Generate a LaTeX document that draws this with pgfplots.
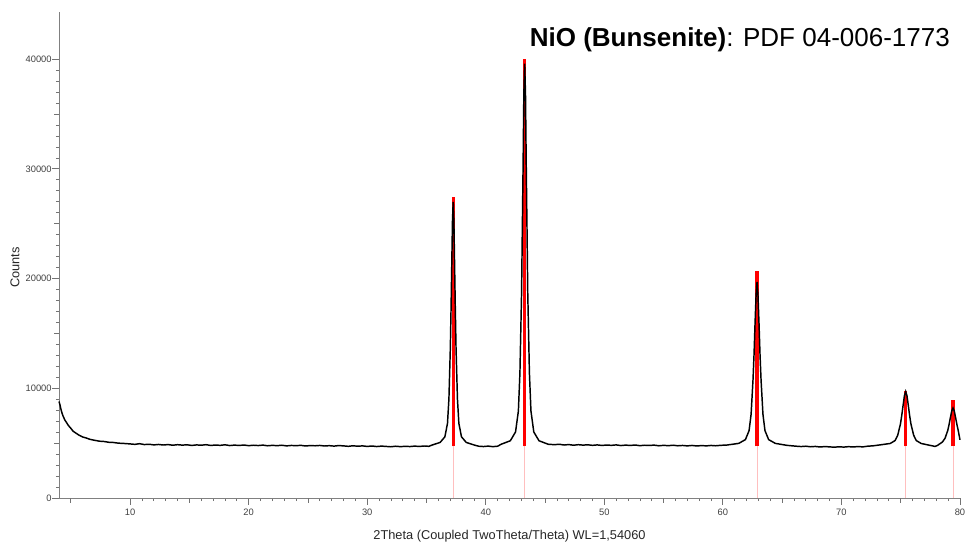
\documentclass[border=0pt]{standalone}
\usepackage{pgfplots}
\pgfplotsset{compat=1.18}
\usepackage{fontspec}
\setmainfont{Liberation Sans}
\begin{document}
\begin{tikzpicture}
\useasboundingbox (-44.25pt,-39pt) rectangle (681.75pt,373.5pt);
\begin{axis}[
  at={(0,0)}, anchor=south west,
  scale only axis, width=675.75pt, height=364.5pt,
  xmin=4, xmax=80, ymin=0, ymax=44300,
  axis lines*=left,
  axis line style={draw=black!50, line width=0.6pt, -},
  tick align=outside,
  major tick length=5pt, minor tick length=2.4pt,
  every tick/.style={draw=black!55, line width=0.6pt},
  xtick={10,20,...,80}, minor x tick num=9,
  ytick={0,10000,...,40000}, minor y tick num=9,
  extra x ticks={5,15,...,75}, extra x tick labels={},
  extra y ticks={5000,15000,...,35000}, extra y tick labels={},
  extra tick style={major tick length=3.6pt},
  scaled y ticks=false,
  /pgf/number format/assume math mode=true,
  /pgf/number format/1000 sep={},
  tick label style={font=\fontsize{7}{8}\selectfont, text=black!75},
  yticklabel style={xshift=3pt},
  xlabel={2Theta (Coupled TwoTheta/Theta) WL=1,54060},
  ylabel={Counts},
  label style={font=\fontsize{9.6}{11}\selectfont, text=black!85},
  xlabel style={at={(axis description cs:0.5,-0.078)}, anchor=center},
  ylabel style={at={(axis description cs:-0.049,0.474)}, anchor=center},
  clip=false,
]
% reference pattern sticks (thin lower part)
\addplot[red!25, line width=0.5pt] coordinates {(37.25,0) (37.25,4700)};
\addplot[red!25, line width=0.5pt] coordinates {(43.28,0) (43.28,4700)};
\addplot[red!25, line width=0.5pt] coordinates {(62.88,0) (62.88,4700)};
\addplot[red!25, line width=0.5pt] coordinates {(75.42,0) (75.42,4700)};
\addplot[red!25, line width=0.5pt] coordinates {(79.41,0) (79.41,4700)};
% reference pattern sticks (thick part)
\addplot[red, line width=2.3pt] coordinates {(37.25,4700) (37.25,27400)};
\addplot[red, line width=2.3pt] coordinates {(43.28,4700) (43.28,40000)};
\addplot[red, line width=2.3pt] coordinates {(62.88,4700) (62.88,20650)};
\addplot[red, line width=2.3pt] coordinates {(75.42,4700) (75.42,9750)};
\addplot[red, line width=2.3pt] coordinates {(79.41,4700) (79.41,8900)};
% measured pattern
\addplot[black, line width=1.1pt] table {
4.0 8800
4.08 8500
4.15 8150
4.25 7750
4.35 7450
4.5 7100
4.65 6850
4.8 6600
5.0 6350
5.2 6080
5.45 5900
5.7 5720
6.0 5560
6.3 5470
6.6 5350
7.0 5260
7.4 5180
7.8 5150
8.2 5080
8.6 5060
9.0 5000
9.5 4970
10.0 4930
10.4 4890
10.8 4950
11.2 4870
11.6 4900
12.0 4840
12.4 4880
12.8 4830
13.2 4870
13.6 4810
14.0 4860
14.4 4820
14.8 4850
15.2 4790
15.6 4840
16.0 4810
16.4 4860
16.8 4790
17.2 4830
17.6 4800
18.0 4850
18.4 4780
18.8 4820
19.2 4790
19.6 4830
20.0 4770
20.4 4810
20.8 4780
21.2 4820
21.6 4760
22.0 4800
22.4 4770
22.8 4810
23.2 4750
23.6 4790
24.0 4770
24.4 4800
24.8 4740
25.2 4780
25.6 4760
26.0 4790
26.4 4740
26.8 4770
27.2 4730
27.6 4780
28.0 4750
28.4 4710
28.8 4760
29.2 4720
29.6 4750
30.0 4700
30.4 4740
30.8 4690
31.2 4730
31.6 4700
32.0 4670
32.4 4720
32.8 4680
33.2 4710
33.6 4690
34.0 4730
34.4 4700
34.8 4740
35.2 4710
35.45 4820
36.15 5066
36.55 5577
36.77 6800
36.89 9020
37.01 13680
37.07 17230
37.13 21230
37.19 25220
37.25 27000
37.31 25220
37.37 21230
37.43 17230
37.49 13680
37.61 9020
37.73 6800
37.95 5577
38.35 5066
39.05 4820
39.4 4720
39.8 4690
40.2 4730
40.6 4680
41.0 4720
41.30 4900
42.07 5218
42.51 6018
42.75 7930
42.88 11410
43.02 18720
43.08 24290
43.15 30550
43.21 36820
43.28 39600
43.35 36820
43.41 30550
43.48 24290
43.54 18720
43.68 11410
43.81 7930
44.05 6018
44.49 5218
45.26 4900
45.8 4860
46.2 4900
46.6 4830
47.0 4870
47.4 4810
47.8 4860
48.2 4820
48.6 4850
49.0 4800
49.4 4840
49.8 4790
50.2 4830
50.6 4800
51.0 4840
51.4 4780
51.8 4820
52.2 4790
52.6 4830
53.0 4770
53.4 4810
53.8 4790
54.2 4820
54.6 4760
55.0 4800
55.4 4770
55.8 4810
56.2 4760
56.6 4790
57.0 4750
57.4 4790
57.8 4740
58.2 4780
58.6 4750
59.0 4790
59.4 4760
59.8 4800
60.36 4830
61.34 4979
61.90 5322
62.21 6141
62.38 7631
62.54 10760
62.63 13140
62.71 15830
62.80 18510
62.88 19700
62.96 18510
63.05 15830
63.13 13140
63.22 10760
63.38 7631
63.55 6141
63.86 5322
64.42 4979
65.40 4800
65.8 4760
66.2 4720
66.6 4690
67.0 4720
67.4 4670
67.8 4700
68.2 4650
68.6 4690
69.0 4660
69.4 4630
69.8 4670
70.2 4640
70.6 4680
71.0 4650
71.4 4690
71.8 4660
72.2 4720
72.7 4760
73.38 4859
74.12 4972
74.53 5241
74.75 5731
74.98 6760
75.09 7540
75.20 8430
75.31 9310
75.42 9700
75.53 9310
75.64 8430
75.75 7540
75.86 6760
76.09 5731
76.31 5241
76.72 4972
77.46 4800
77.9 4700
78.11 4800
78.52 5106
78.74 5446
78.97 6160
79.08 6700
79.19 7320
79.30 7930
79.41 8200
79.52 7930
79.63 7320
79.74 6700
79.85 6160
80.0 5300
};
\node[anchor=base east, font=\fontsize{19.5}{22}\selectfont, inner sep=0pt]
  at (rel axis cs:0.989,0.928) {\textbf{NiO (Bunsenite)}: PDF 04-006-1773};
\end{axis}
\end{tikzpicture}
\end{document}
